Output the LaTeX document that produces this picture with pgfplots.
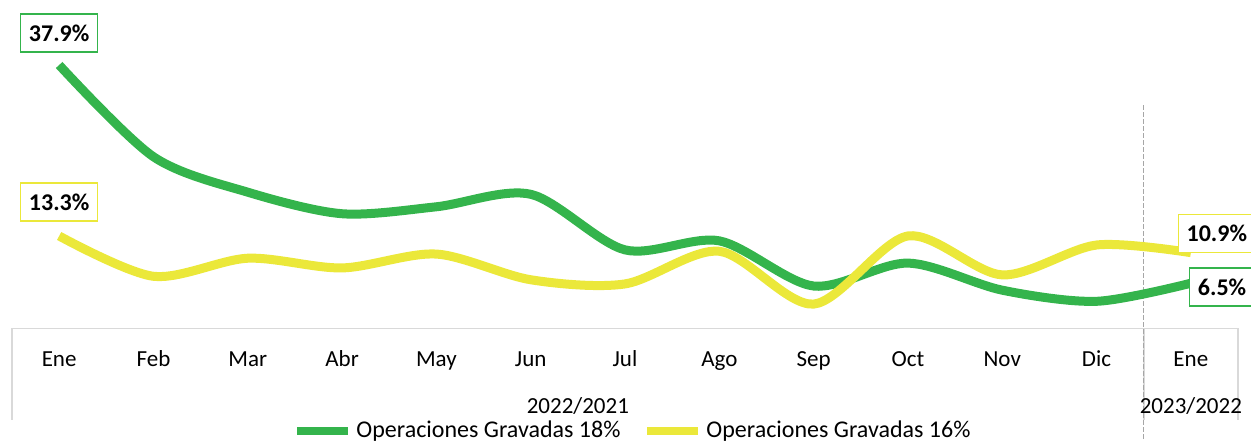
\documentclass[border=0pt]{standalone}
\usepackage{pgfplots}
\pgfplotsset{compat=1.18}
\usepackage{fontspec}
\setmainfont{Carlito}
\definecolor{cgreen}{HTML}{34B44C}
\definecolor{cyellow}{HTML}{EBE83A}
\definecolor{caxis}{HTML}{D9D9D9}
\definecolor{cdash}{HTML}{A6A6A6}
\begin{document}
\begin{tikzpicture}
\clip (0,0) rectangle (625.5pt,-220pt);
\begin{axis}[
  at={(6pt,-164.2pt)}, anchor=south west,
  scale only axis, width=613pt, height=164.2pt,
  xmin=-0.5, xmax=12.5, ymin=0, ymax=47.25,
  clip=false,
  axis line style={draw=none},
  ytick=\empty,
  xtick={0,...,12},
  xticklabels={Ene,Feb,Mar,Abr,May,Jun,Jul,Ago,Sep,Oct,Nov,Dic,Ene},
  major tick length=0pt,
  xticklabel style={anchor=base, yshift=-19pt, font=\fontsize{11.5}{13}\selectfont},
  legend columns=2,
  legend style={draw=none, fill=none, at={(0.5073,-0.312)}, anchor=center,
    font=\fontsize{12}{14}\selectfont,
    /tikz/every even column/.append style={column sep=9.5pt},
    inner sep=0pt},
  legend image code/.code={\draw[#1, line width=4pt] (0pt,0pt) -- (25.5pt,0pt);},
]
% axis frame lines
\draw[caxis, line width=0.8pt] (axis cs:-0.5,0) -- (axis cs:12.5,0);
\draw[caxis, line width=0.8pt] (axis cs:-0.5,0) -- (axis cs:-0.5,-13.2);
\draw[caxis, line width=0.8pt] (axis cs:12.5,0) -- (axis cs:12.5,-13.2);
\draw[caxis, line width=0.8pt] (axis cs:11.5,0) -- (axis cs:11.5,-13.2);
\draw[cdash, line width=0.5pt, dash pattern=on 2.5pt off 1pt] (axis cs:11.5,32.1) -- (axis cs:11.5,-16.1);

\addplot[cgreen, line width=4.5pt, smooth, no markers] coordinates {
(0,37.9) (1,24.7) (2,19.6) (3,16.5) (4,17.5) (5,19.3) (6,11.3)
(7,12.6) (8,6.1) (9,9.4) (10,5.5) (11,3.9) (12,6.5)};
\addlegendentry{Operaciones Gravadas 18\%}
\addplot[cyellow, line width=4.5pt, smooth, no markers] coordinates {
(0,13.3) (1,7.5) (2,10.1) (3,8.7) (4,10.7) (5,7.0) (6,6.4)
(7,11.1) (8,3.5) (9,13.3) (10,7.7) (11,12.0) (12,10.9)};
\addlegendentry{Operaciones Gravadas 16\%}

% group labels
\node[anchor=base, font=\fontsize{11.5}{13}\selectfont, yshift=-42.5pt] at (axis cs:5.5,0) {2022/2021};
\node[anchor=base, font=\fontsize{11.5}{13}\selectfont, yshift=-42.5pt] at (axis cs:12,0) {2023/2022};

% data labels
\tikzset{lbl/.style={fill=white, line width=0.6pt, inner xsep=4.2pt, minimum height=19pt,
  font=\fontsize{12}{14}\selectfont\bfseries}}
\node[lbl, draw=cgreen, anchor=center] at (axis cs:0,42.5) {37.9\%};
\node[lbl, draw=cyellow, anchor=center] at (axis cs:0,18.2) {13.3\%};
\node[lbl, draw=cyellow, anchor=west] at (axis cs:11.86,13.7) {10.9\%};
\node[lbl, draw=cgreen, anchor=west] at (axis cs:11.98,5.96) {6.5\%};
\end{axis}
\end{tikzpicture}
\end{document}
